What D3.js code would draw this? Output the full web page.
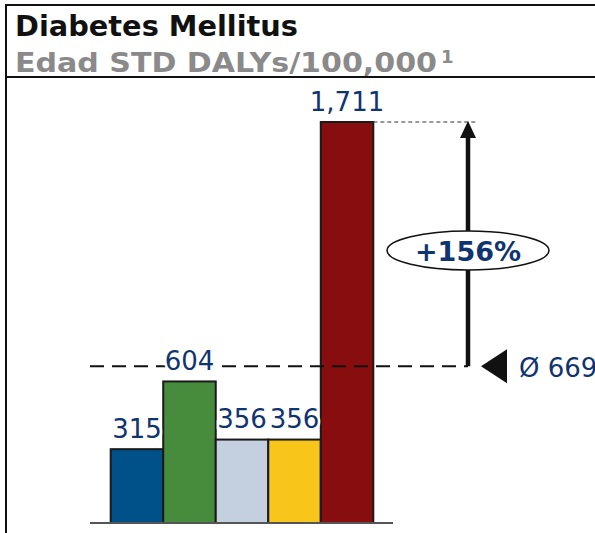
<!DOCTYPE html>
<html><head><meta charset="utf-8">
<script src="https://cdn.jsdelivr.net/npm/d3@7"></script>
<style>body{margin:0;background:#fff}svg{display:block}</style>
</head><body>
<svg id="c" width="595" height="533"></svg>
<script>
const categories = ["A","B","C","D","E"];
const values = [315, 604, 356, 356, 1711];
const labels = ["315","604","356","356","1,711"];
const colors = ["#00508A","#468C3C","#C4CFE0","#F8C61A","#870D0F"];
const average = 669;
const averageLabel = "Ø 669";
const changeLabel = "+156%";
const title = "Diabetes Mellitus";
const subtitle = "Edad STD DALYs/100,000";
const footnoteMark = "1";

const svg = d3.select("#c");
const font = "DejaVu Sans, Verdana, sans-serif";
const navy = "#0F3470";

// frame
svg.append("path").attr("d","M6,533 V5 H595").attr("fill","none").attr("stroke","#111").attr("stroke-width",2);
svg.append("line").attr("x1",6).attr("x2",595).attr("y1",77).attr("y2",77).attr("stroke","#111").attr("stroke-width",2);

svg.append("text").attr("x",15).attr("y",36).attr("font-family",font).attr("font-weight","bold")
  .attr("font-size",28).attr("fill","#111")
  .attr("textLength",283).attr("lengthAdjust","spacingAndGlyphs").text(title);
svg.append("text").attr("x",15).attr("y",72).attr("font-family",font).attr("font-weight","bold")
  .attr("font-size",27).attr("fill","#8a8a8a")
  .attr("textLength",422).attr("lengthAdjust","spacingAndGlyphs").text(subtitle);
svg.append("text").attr("x",441).attr("y",63).attr("font-family",font).attr("font-weight","bold")
  .attr("font-size",18).attr("fill","#8a8a8a").text(footnoteMark);

const x = d3.scaleBand().domain(categories).range([110.7, 373.3]).padding(0);
const y = d3.scaleLinear().domain([0, 1711]).range([523, 122]);

// bars
svg.selectAll("rect.bar").data(values).join("rect").attr("class","bar")
  .attr("x",(d,i)=>x(categories[i])).attr("width",x.bandwidth())
  .attr("y",d=>y(d)).attr("height",d=>y(0)-y(d))
  .attr("fill",(d,i)=>colors[i]).attr("stroke","#1a1a1a").attr("stroke-width",2);

// axis baseline
svg.append("line").attr("x1",90).attr("x2",393).attr("y1",y(0)).attr("y2",y(0))
  .attr("stroke","#555").attr("stroke-width",2);

// average dashed line
const arrowX = 468;
svg.append("line").attr("x1",90).attr("x2",arrowX).attr("y1",y(average)).attr("y2",y(average))
  .attr("stroke","#111").attr("stroke-width",2).attr("stroke-dasharray","14,8");

// value labels (with white background)
svg.selectAll("text.lab").data(values).join("text").attr("class","lab")
  .attr("x",(d,i)=>x(categories[i])+x.bandwidth()/2).attr("y",d=>y(d)-11.5)
  .attr("text-anchor","middle").attr("font-family",font).attr("font-size",26)
  .attr("fill",navy).attr("stroke","#fff").attr("stroke-width",5).attr("paint-order","stroke")
  .text((d,i)=>labels[i]);

// top dotted line
const maxV = d3.max(values);
svg.append("line").attr("x1",x(categories[4])+x.bandwidth()).attr("x2",477)
  .attr("y1",y(maxV)).attr("y2",y(maxV)).attr("stroke","#333").attr("stroke-width",1).attr("stroke-dasharray","4,3");

// arrow
svg.append("line").attr("x1",arrowX).attr("x2",arrowX).attr("y1",y(average)).attr("y2",y(maxV)+16)
  .attr("stroke","#111").attr("stroke-width",4.5);
svg.append("path").attr("d",`M${arrowX},${y(maxV)-1} L${arrowX-8},${y(maxV)+16} L${arrowX+8},${y(maxV)+16} Z`).attr("fill","#111");

// ellipse label
const ey = 250.5;
svg.append("ellipse").attr("cx",arrowX).attr("cy",ey).attr("rx",81).attr("ry",19.5)
  .attr("fill","#fff").attr("stroke","#111").attr("stroke-width",1.5);
svg.append("text").attr("x",arrowX).attr("y",ey+10).attr("text-anchor","middle")
  .attr("font-family",font).attr("font-weight","bold").attr("font-size",27).attr("fill",navy).text(changeLabel);

// triangle marker
const ay = y(average);
svg.append("path").attr("d",`M481,${ay} L507,${ay-17} L507,${ay+17} Z`).attr("fill","#111");
svg.append("text").attr("x",519).attr("y",ay+11).attr("font-family",font).attr("font-size",26)
  .attr("fill",navy).text(averageLabel);
</script>
</body></html>
